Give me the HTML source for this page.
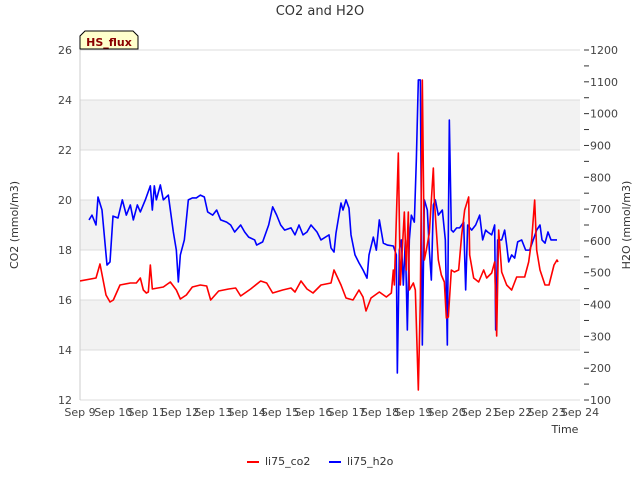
<!DOCTYPE html>
<html><head><meta charset="utf-8"><style>
body{margin:0;background:#fff}
svg text{font-family:"DejaVu Sans","Liberation Sans",sans-serif}
</style></head><body>
<svg id="chart" width="640" height="480" xmlns="http://www.w3.org/2000/svg">
<text x="320" y="15" text-anchor="middle" font-size="13" fill="#333">CO2 and H2O</text>
<g id="bands"></g><g id="grid"></g>
<g id="axes"></g>
<g id="series" clip-path="url(#clip)"></g>
<defs><clipPath id="clip"><rect x="80" y="50" width="500" height="350"/></clipPath></defs>
<g>
<path d="M80,49 L80,36 L85,31 L133,31 L138,36 L138,49 Z" fill="#ffffcc" stroke="#000" stroke-width="1"/>
<text x="109" y="46" text-anchor="middle" font-size="11" font-weight="bold" fill="#8b0000">HS_flux</text>
</g>
<text transform="translate(18,225) rotate(-90)" text-anchor="middle" font-size="11" fill="#333">CO2 (mmol/m3)</text>
<text transform="translate(630,225) rotate(-90)" text-anchor="middle" font-size="11" fill="#333">H2O (mmol/m3)</text>
<text x="565" y="433" text-anchor="middle" font-size="11" fill="#333">Time</text>
<g>
<g><line x1="247" y1="462" x2="259" y2="462" stroke="#f00" stroke-width="2"/><text x="265" y="465" font-size="11" fill="#333">li75_co2</text></g>
<g><line x1="329" y1="462" x2="341" y2="462" stroke="#00f" stroke-width="2"/><text x="347" y="465" font-size="11" fill="#333">li75_h2o</text></g>
</g>
</svg>
<script>
const xTickLabels=["Sep 9","Sep 10","Sep 11","Sep 12","Sep 13","Sep 14","Sep 15","Sep 16","Sep 17","Sep 18","Sep 19","Sep 20","Sep 21","Sep 22","Sep 23","Sep 24"];
const leftTicks=[12,14,16,18,20,22,24,26];
const rightTicks=[100,200,300,400,500,600,700,800,900,1000,1100,1200];
const co2Days=[0,0.48,0.6,0.78,0.9,1.0,1.2,1.51,1.69,1.81,1.9,1.99,2.05,2.11,2.17,2.5,2.71,2.89,3.01,3.19,3.37,3.61,3.8,3.92,4.16,4.46,4.67,4.82,5.12,5.42,5.6,5.78,6.08,6.33,6.45,6.63,6.81,6.99,7.23,7.53,7.62,7.83,7.98,8.19,8.37,8.49,8.58,8.73,8.98,9.19,9.34,9.4,9.43,9.55,9.61,9.73,9.79,9.85,9.88,10.0,10.06,10.15,10.21,10.27,10.33,10.39,10.48,10.6,10.63,10.75,10.84,10.93,10.99,11.05,11.14,11.23,11.36,11.45,11.54,11.66,11.69,11.81,11.96,12.11,12.2,12.35,12.44,12.5,12.56,12.65,12.8,12.95,13.1,13.34,13.46,13.55,13.64,13.7,13.8,13.95,14.07,14.22,14.31,14.34];
const co2Values=[16.76,16.88,17.44,16.2,15.92,16.0,16.6,16.68,16.68,16.88,16.4,16.28,16.32,17.4,16.44,16.52,16.72,16.4,16.04,16.2,16.52,16.6,16.56,16.0,16.36,16.44,16.48,16.16,16.44,16.76,16.68,16.28,16.4,16.48,16.32,16.76,16.44,16.28,16.6,16.68,17.2,16.6,16.08,16.0,16.4,16.12,15.56,16.08,16.32,16.12,16.28,17.2,16.6,21.88,16.6,19.52,17.2,19.52,16.4,16.68,16.4,12.4,16.0,24.8,17.6,18.0,18.68,21.28,20.0,17.6,17.0,16.72,15.28,15.32,17.2,17.12,17.2,18.6,19.6,20.12,17.8,16.88,16.72,17.2,16.88,17.08,17.52,14.56,18.8,17.12,16.6,16.4,16.92,16.92,17.52,18.4,20.0,18.0,17.2,16.6,16.6,17.4,17.6,17.52];
const h2oDays=[0.27,0.36,0.48,0.54,0.66,0.81,0.9,0.99,1.14,1.27,1.39,1.51,1.6,1.72,1.81,1.96,2.11,2.17,2.23,2.29,2.41,2.5,2.65,2.8,2.89,2.95,3.01,3.13,3.25,3.37,3.49,3.61,3.73,3.83,3.98,4.1,4.22,4.4,4.52,4.64,4.82,4.94,5.06,5.24,5.3,5.48,5.66,5.78,5.9,6.02,6.14,6.33,6.45,6.57,6.69,6.81,6.93,7.11,7.23,7.47,7.53,7.62,7.68,7.83,7.89,7.98,8.07,8.13,8.25,8.37,8.49,8.61,8.67,8.8,8.89,8.98,9.1,9.22,9.4,9.49,9.52,9.58,9.64,9.7,9.76,9.82,9.88,9.94,10.03,10.09,10.15,10.21,10.27,10.33,10.42,10.48,10.54,10.6,10.66,10.75,10.87,10.96,11.02,11.08,11.14,11.2,11.3,11.39,11.51,11.57,11.63,11.75,11.87,11.99,12.08,12.17,12.23,12.35,12.44,12.47,12.53,12.65,12.74,12.8,12.86,12.95,13.04,13.13,13.25,13.37,13.49,13.7,13.8,13.86,13.95,14.04,14.13,14.22,14.31];
const h2oValues=[666,681,650,738,697,524,534,678,672,729,681,713,666,713,691,729,773,697,773,729,776,729,744,628,571,471,556,603,729,735,735,744,738,691,681,697,666,659,650,628,650,628,612,603,587,597,650,707,681,650,634,641,619,650,619,628,650,628,603,619,578,565,625,719,697,729,703,619,556,531,509,483,556,612,571,666,593,587,584,556,185,571,603,461,603,320,603,681,659,854,1106,1106,273,729,697,571,477,713,729,681,697,603,273,980,634,628,641,641,659,446,650,634,650,681,603,634,628,619,650,320,603,603,634,587,534,556,546,597,603,571,571,634,650,603,593,628,603,603,603];

const NS="http://www.w3.org/2000/svg";
const X0=80,X1=580,Y0=50,Y1=400;
const xs=d=>X0+d*(X1-X0)/15;
const yl=v=>Y1-(v-12)*(Y1-Y0)/14;
const yr=v=>Y1-(v-100)*(Y1-Y0)/1100;
function mk(tag,attrs,parent,txt){const e=document.createElementNS(NS,tag);for(const k in attrs)e.setAttribute(k,attrs[k]);if(txt!==undefined)e.textContent=txt;parent.appendChild(e);return e;}
const bands=document.getElementById('bands'),grid=document.getElementById('grid'),axes=document.getElementById('axes'),series=document.getElementById('series');
for(let i=0;i<leftTicks.length-1;i++){ if(i%2===1){const b=mk('rect',{x:X0,y:yl(leftTicks[i+1]),width:X1-X0,height:yl(leftTicks[i])-yl(leftTicks[i+1]),fill:'#f2f2f2'},bands);

}}
leftTicks.forEach(v=>{const l=mk('line',{x1:X0,x2:X1,y1:yl(v),y2:yl(v),stroke:'#dcdcdc','stroke-width':1},grid);


const t=mk('text',{x:X0-8,y:yl(v)+4,'text-anchor':'end','font-size':11,fill:'#444'},axes,String(v));

});
mk('line',{x1:X0,x2:X0,y1:Y0,y2:Y1,stroke:'#ccc'},axes);
rightTicks.forEach(v=>{mk('line',{x1:X1+4,x2:X1+9,y1:yr(v),y2:yr(v),stroke:'#333'},axes);
if(v<1200)mk('line',{x1:X1+4,x2:X1+9,y1:yr(v+50),y2:yr(v+50),stroke:'#333'},axes);
const t=mk('text',{x:X1+10,y:yr(v)+4,'font-size':11,fill:'#444'},axes,String(v));

});
xTickLabels.forEach((s,i)=>{const t=mk('text',{x:xs(i),y:416,'text-anchor':'middle','font-size':11,fill:'#444'},axes,s);

});
const h=mk('polyline',{points:h2oDays.map((d,i)=>xs(d)+','+yr(h2oValues[i])).join(' '),fill:'none',stroke:'#0000ff','stroke-width':1.6,'stroke-linejoin':'round'},series);


const c=mk('polyline',{points:co2Days.map((d,i)=>xs(d)+','+yl(co2Values[i])).join(' '),fill:'none',stroke:'#ff0000','stroke-width':1.6,'stroke-linejoin':'round'},series);


</script>
</body></html>
